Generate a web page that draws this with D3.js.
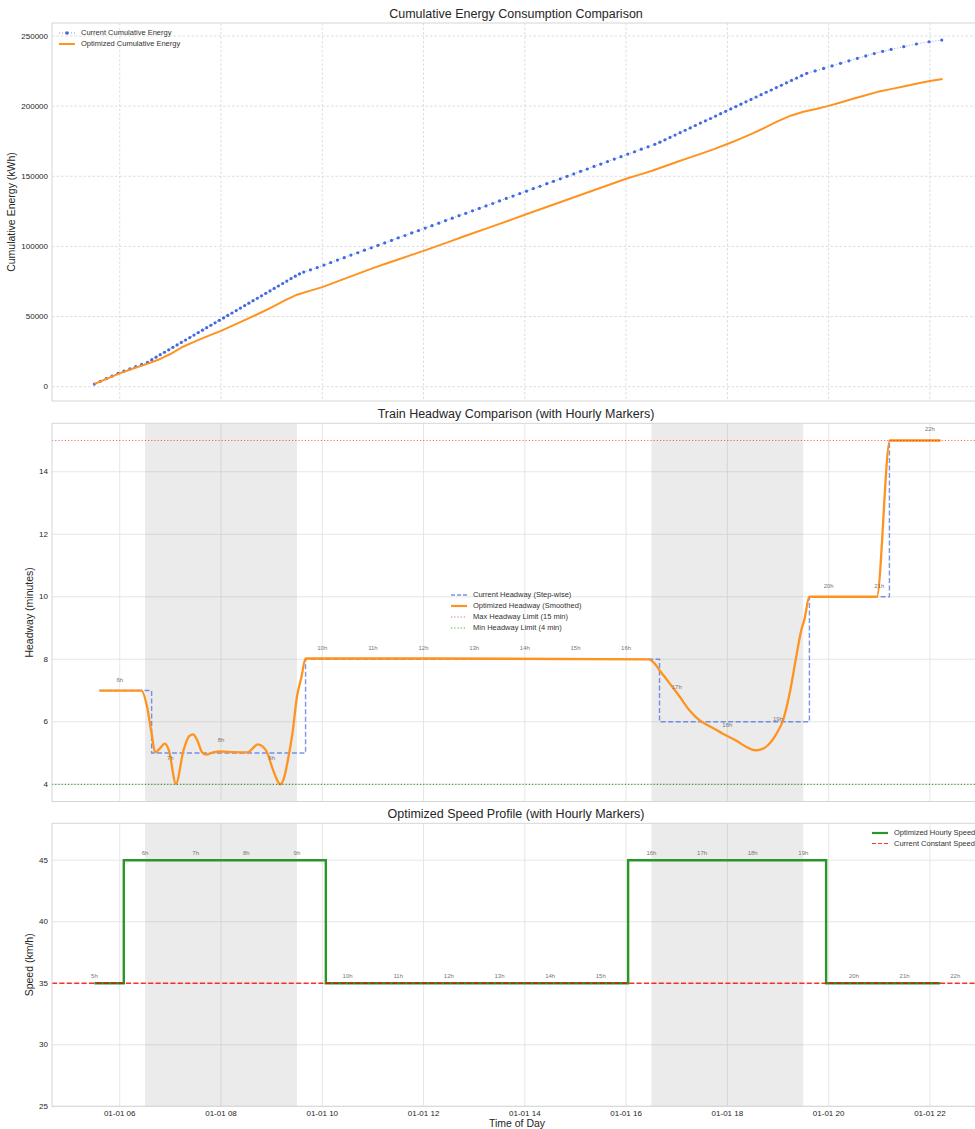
<!DOCTYPE html>
<html>
<head>
<meta charset="utf-8">
<script src="https://cdn.jsdelivr.net/npm/d3@7"></script>
<style>
  body { margin: 0; background: #fff; }
  text { font-family: "Liberation Sans", Arial, sans-serif; fill: #262626; }
</style>
</head>
<body>
<script>
// ---- data ----
// current schedule: one point per departure (minutes after midnight)
const currentDepartures = [330,337,344,351,358,365,372,379,386,393,
  398,403,408,413,418,423,428,433,438,443,448,453,458,463,468,473,478,483,488,493,498,503,508,513,518,523,528,533,538,543,548,553,558,563,568,573,578,
  586,594,602,610,618,626,634,642,650,658,666,674,682,690,698,706,714,722,730,738,746,754,762,770,778,786,794,802,810,818,826,834,842,850,858,866,874,882,890,898,906,914,922,930,938,946,954,962,970,978,986,994,
  1000,1006,1012,1018,1024,1030,1036,1042,1048,1054,1060,1066,1072,1078,1084,1090,1096,1102,1108,1114,1120,1126,1132,1138,1144,1150,1156,1162,1168,1174,
  1184,1194,1204,1214,1224,1234,1244,1254,1264,
  1274,1289,1304,1319,1334];
const currentEnergy = [1900,3800,5700,7600,9500,11100,12700,14300,15900,17400,
  19300,21050,22800,24550,26300,28050,29800,31550,33300,35050,36800,38550,40300,42050,43800,45550,47300,49050,50800,52550,54300,56050,57800,59550,61300,63050,64800,66550,68300,70050,71800,73550,75300,77050,78800,80400,81700,
  83300,84900,86700,88500,90300,92000,93800,95500,97300,99000,100800,102500,104300,106100,107800,109600,111300,113100,114800,116600,118400,120100,121900,123600,125400,127100,128900,130600,132400,134200,135900,137700,139400,141200,142900,144700,146400,148200,150000,151700,153500,155200,157000,158700,160500,162300,164000,165800,167500,169300,171000,172800,
  174300,176000,177700,179400,181100,182800,184500,186200,187900,189500,191200,192900,194600,196300,198000,199700,201400,203100,204800,206500,208200,209900,211500,213200,214900,216600,218300,220000,221700,223400,
  225100,226900,228700,230500,232300,234100,235800,237500,239100,
  240400,242400,244300,245900,247100];

const optimizedTimes = [5.5,5.75,6,6.25,6.5,6.75,7,7.25,7.5,7.75,8,8.25,8.5,8.75,9,9.25,9.5,9.75,10,10.25,10.5,10.75,11,11.25,11.5,11.75,12,12.25,12.5,12.75,13,13.25,13.5,13.75,14,14.25,14.5,14.75,15,15.25,15.5,15.75,16,16.25,16.5,16.75,17,17.25,17.5,17.75,18,18.25,18.5,18.75,19,19.25,19.5,19.75,20,20.25,20.5,20.75,21,21.25,21.5,21.75,22,22.25];
const optimizedEnergy = [1900,5800,9500,12800,15700,19000,23300,28500,32500,36200,39800,43900,48000,52200,56600,61300,65600,68300,71000,74400,77800,81100,84500,87600,90700,93800,96800,100000,103200,106500,109700,112900,116100,119300,122600,125800,129000,132200,135400,138600,141800,145000,148200,151000,153800,157000,160200,163300,166300,169500,173000,176700,180600,184800,189300,193200,196000,198000,200200,202800,205400,208000,210500,212300,214200,216100,217900,219400];

const headwayStepTimes = [5.6, 6.63, 9.67, 16.66, 19.62, 21.2, 22.2];
const headwayStepValues = [7, 5, 8, 6, 10, 15, 15];

const headwayOptTimes = [5.6,6.43,6.54,6.63,6.7,6.79,6.89,6.97,7.11,7.26,7.37,7.45,7.53,7.63,7.71,7.84,8.01,8.24,8.53,8.63,8.73,8.83,8.9,9.03,9.13,9.17,9.24,9.32,9.41,9.5,9.59,9.67,16.45,16.56,16.66,16.86,17.06,17.25,17.45,17.65,17.91,18.18,18.37,18.54,18.67,18.8,18.97,19.1,19.23,19.36,19.46,19.52,19.62,20.95,21.21,22.21];
const headwayOptValues = [7,7,6.48,5.62,5.02,5.14,5.3,5.09,4.02,5.09,5.54,5.6,5.41,5.02,4.95,5.02,5.05,5.03,5.02,5.16,5.28,5.2,5.05,4.45,4.07,4,4.18,4.77,5.62,6.8,7.44,8.03,8,7.87,7.65,7.23,6.8,6.37,6.05,5.86,5.62,5.39,5.2,5.09,5.12,5.25,5.62,6.05,6.91,8.08,8.94,9.26,10,10,15,15];

const headwayLabelHours = [6,7,8,9,10,11,12,13,14,15,16,17,18,19,20,21,22];
const headwayLabelValues = [7,4.5,5.05,4.5,8,8,8,8,8,8,8,6.75,5.55,5.75,10,10,15];

const speedTimes = [5.5, 6.08, 10.07, 16.04, 19.95, 22.2];
const speedLevels = [35, 45, 35, 45, 35, 35];
const speedLabelHours = [5,6,7,8,9,10,11,12,13,14,15,16,17,18,19,20,21,22];
const speedLabelValues = [35,45,45,45,45,35,35,35,35,35,35,45,45,45,45,35,35,35];

const peakPeriods = [[6.5, 9.5], [16.5, 19.5]];
const maxHeadway = 15, minHeadway = 4, constantSpeed = 35;

// ---- helpers ----
const t0 = new Date(2024, 0, 1);
const toDate = (h) => new Date(t0.getTime() + h * 3600000);

const svg = d3.select("body").append("svg").attr("width", 975).attr("height", 1129);

const left = 52, right = 985;
const x = d3.scaleTime()
  .domain([toDate(4.6625), toDate(23.0875)])
  .range([left, right]);
const hourTicks = x.ticks(d3.timeHour.every(2));

function panel(top, bottom, yDomain, yTicks, dashed, title, ylabel, ylabelX) {
  const y = d3.scaleLinear().domain(yDomain).range([bottom, top]);
  const g = svg.append("g");
  const gridColor = dashed ? "#d9d9d9" : "#e3e3e3";
  const dash = dashed ? "2.5,2" : null;

  g.append("g").selectAll("line").data(hourTicks).join("line")
    .attr("x1", (d) => x(d)).attr("x2", (d) => x(d))
    .attr("y1", top).attr("y2", bottom)
    .attr("stroke", gridColor).attr("stroke-width", 0.9)
    .attr("stroke-dasharray", dash);
  g.append("g").selectAll("line").data(yTicks).join("line")
    .attr("x1", left).attr("x2", right)
    .attr("y1", (d) => y(d)).attr("y2", (d) => y(d))
    .attr("stroke", gridColor).attr("stroke-width", 0.9)
    .attr("stroke-dasharray", dash);

  g.append("g").selectAll("text").data(yTicks).join("text")
    .attr("x", left - 4).attr("y", (d) => y(d)).attr("dy", "0.33em")
    .attr("text-anchor", "end").style("font-size", "8px")
    .text((d) => d);

  svg.append("text")
    .attr("x", 516).attr("y", top - 5)
    .attr("text-anchor", "middle").style("font-size", "12.5px")
    .text(title);

  svg.append("text")
    .attr("transform", "translate(" + ylabelX + "," + (top + bottom) / 2 + ") rotate(-90)")
    .attr("text-anchor", "middle").style("font-size", "10.5px")
    .text(ylabel);

  return { g, y, top, bottom };
}

function shade(p) {
  p.g.append("g").selectAll("rect").data(peakPeriods).join("rect")
    .attr("x", (d) => x(toDate(d[0])))
    .attr("width", (d) => x(toDate(d[1])) - x(toDate(d[0])))
    .attr("y", p.top).attr("height", p.bottom - p.top)
    .attr("fill", "#808080").attr("opacity", 0.16);
}

function spines(p) {
  p.g.append("rect")
    .attr("x", left).attr("y", p.top)
    .attr("width", right - left).attr("height", p.bottom - p.top)
    .attr("fill", "none").attr("stroke", "#d6d6d6").attr("stroke-width", 1);
}

function legend(items, x0, y0, rowH) {
  const lg = svg.append("g");
  items.forEach((it, i) => {
    const yy = y0 + i * rowH;
    lg.append("line")
      .attr("x1", x0).attr("x2", x0 + 16).attr("y1", yy).attr("y2", yy)
      .attr("stroke", it.color).attr("stroke-width", it.width)
      .attr("stroke-dasharray", it.dash).attr("opacity", it.opacity || 1);
    if (it.marker) {
      lg.append("circle").attr("cx", x0 + 8).attr("cy", yy).attr("r", 1.8)
        .attr("fill", it.color);
    }
    lg.append("text")
      .attr("x", x0 + 22).attr("y", yy).attr("dy", "0.33em")
      .style("font-size", "7.5px").style("fill", "#333")
      .text(it.label);
  });
}

// ---- panel 1: cumulative energy ----
const p1 = panel(23, 401, [-10194, 259267], [0, 50000, 100000, 150000, 200000, 250000],
  true, "Cumulative Energy Consumption Comparison", "Cumulative Energy (kWh)", 15);

const currentX = (i) => x(toDate(currentDepartures[i] / 60));

p1.g.append("path")
  .attr("d", d3.line().x((d, i) => currentX(i)).y((d) => p1.y(d))(currentEnergy))
  .attr("fill", "none").attr("stroke", "royalblue").attr("stroke-width", 1)
  .attr("stroke-dasharray", "1,2").attr("opacity", 0.6);
p1.g.append("g").selectAll("circle").data(currentEnergy).join("circle")
  .attr("cx", (d, i) => currentX(i))
  .attr("cy", (d) => p1.y(d))
  .attr("r", 1.6).attr("fill", "royalblue");
p1.g.append("path")
  .attr("d", d3.line()
    .x((d, i) => x(toDate(optimizedTimes[i])))
    .y((d) => p1.y(d))(optimizedEnergy))
  .attr("fill", "none").attr("stroke", "#ff9320").attr("stroke-width", 2);
spines(p1);

legend([
  { label: "Current Cumulative Energy", color: "royalblue", width: 1, dash: "1,2", opacity: 0.7, marker: true },
  { label: "Optimized Cumulative Energy", color: "#ff9320", width: 2 }
], 59, 33, 11);

// ---- panel 2: headway ----
const p2 = panel(423.3, 801.5, [3.45, 15.55], [4, 6, 8, 10, 12, 14],
  false, "Train Headway Comparison (with Hourly Markers)", "Headway (minutes)", 33);
shade(p2);

p2.g.append("path")
  .attr("d", d3.line().curve(d3.curveStepAfter)
    .x((d, i) => x(toDate(headwayStepTimes[i])))
    .y((d) => p2.y(d))(headwayStepValues))
  .attr("fill", "none").attr("stroke", "royalblue").attr("stroke-width", 1.4)
  .attr("stroke-dasharray", "5,2.5").attr("opacity", 0.7);

p2.g.append("path")
  .attr("d", d3.line().curve(d3.curveMonotoneX)
    .x((d, i) => x(toDate(headwayOptTimes[i])))
    .y((d) => p2.y(d))(headwayOptValues))
  .attr("fill", "none").attr("stroke", "#ff9320").attr("stroke-width", 2.3)
  .attr("stroke-linejoin", "round");

p2.g.append("line")
  .attr("x1", left).attr("x2", right)
  .attr("y1", p2.y(maxHeadway)).attr("y2", p2.y(maxHeadway))
  .attr("stroke", "red").attr("stroke-width", 1.2).attr("stroke-dasharray", "1.2,2")
  .attr("opacity", 0.6);
p2.g.append("line")
  .attr("x1", left).attr("x2", right)
  .attr("y1", p2.y(minHeadway)).attr("y2", p2.y(minHeadway))
  .attr("stroke", "green").attr("stroke-width", 1.2).attr("stroke-dasharray", "1.2,2")
  .attr("opacity", 0.7);

p2.g.append("g").selectAll("text").data(headwayLabelHours).join("text")
  .attr("x", (d) => x(toDate(d)))
  .attr("y", (d, i) => p2.y(headwayLabelValues[i]) - 9)
  .attr("text-anchor", "middle")
  .style("font-size", "6px").style("fill", "#777")
  .text((d) => d + "h");
spines(p2);

legend([
  { label: "Current Headway (Step-wise)", color: "royalblue", width: 1.4, dash: "4,2", opacity: 0.7 },
  { label: "Optimized Headway (Smoothed)", color: "#ff9320", width: 2.2 },
  { label: "Max Headway Limit (15 min)", color: "red", width: 1.2, dash: "1.2,2", opacity: 0.6 },
  { label: "Min Headway Limit (4 min)", color: "green", width: 1.2, dash: "1.2,2", opacity: 0.7 }
], 451, 595, 11);

// ---- panel 3: speed ----
const p3 = panel(823.3, 1106.3, [25, 48], [25, 30, 35, 40, 45],
  false, "Optimized Speed Profile (with Hourly Markers)", "Speed (km/h)", 33);
shade(p3);

p3.g.append("path")
  .attr("d", d3.line().curve(d3.curveStepAfter)
    .x((d, i) => x(toDate(speedTimes[i])))
    .y((d) => p3.y(d))(speedLevels))
  .attr("fill", "none").attr("stroke", "#2a952a").attr("stroke-width", 2.4);

p3.g.append("line")
  .attr("x1", left).attr("x2", right)
  .attr("y1", p3.y(constantSpeed)).attr("y2", p3.y(constantSpeed))
  .attr("stroke", "red").attr("stroke-width", 1.3).attr("stroke-dasharray", "5,2.4")
  .attr("opacity", 0.8);

p3.g.append("g").selectAll("text").data(speedLabelHours).join("text")
  .attr("x", (d) => x(toDate(d + 0.5)))
  .attr("y", (d, i) => p3.y(speedLabelValues[i]) - 5.5)
  .attr("text-anchor", "middle")
  .style("font-size", "6px").style("fill", "#777")
  .text((d) => d + "h");
spines(p3);

legend([
  { label: "Optimized Hourly Speed", color: "#2a952a", width: 2.2 },
  { label: "Current Constant Speed", color: "red", width: 1.2, dash: "4,2", opacity: 0.8 }
], 872, 833, 10.5);

// x axis tick labels (shared, bottom only)
svg.append("g").selectAll("text").data(hourTicks).join("text")
  .attr("x", (d) => x(d)).attr("y", 1115.5)
  .attr("text-anchor", "middle").style("font-size", "8px")
  .text(d3.timeFormat("%m-%d %H"));

svg.append("text")
  .attr("x", 517).attr("y", 1127)
  .attr("text-anchor", "middle").style("font-size", "10.5px")
  .text("Time of Day");
</script>
</body>
</html>
